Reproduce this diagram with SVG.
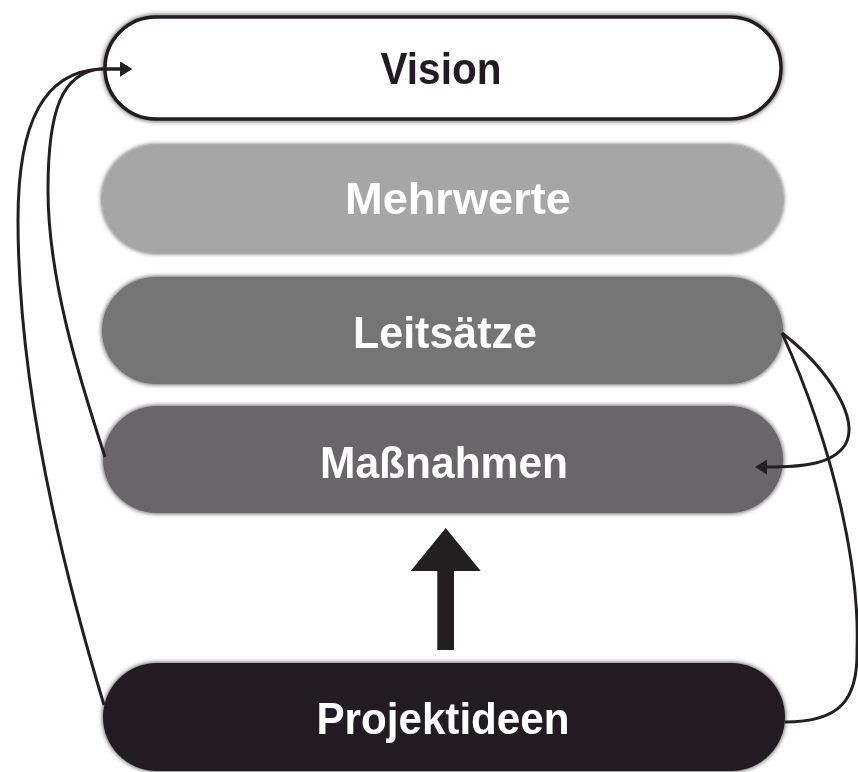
<svg xmlns="http://www.w3.org/2000/svg" width="858" height="772" viewBox="0 0 858 772">
<style>
.lbl{font-family:"Liberation Sans",Arial,Helvetica,sans-serif;font-weight:bold;font-size:45px;text-anchor:middle}
.w{fill:#ffffff}
.k{fill:#231f20}
.conn{fill:none;stroke:#231f20;stroke-width:3}
.box{filter:url(#glow)}
</style>
<defs>
<filter id="glow" x="-5%" y="-20%" width="110%" height="140%">
<feDropShadow dx="0" dy="0" stdDeviation="2.5" flood-color="#000000" flood-opacity="0.8"/>
</filter>
<marker id="ah" markerUnits="userSpaceOnUse" markerWidth="14" markerHeight="16" refX="0" refY="7.5" orient="auto">
<path d="M0,0 L12,7.5 L0,15 z" fill="#231f20"/>
</marker>
</defs>
<rect width="858" height="772" fill="#ffffff"/>
<g id="vision" class="box">
<rect x="105" y="17" width="676" height="102" rx="51" fill="#ffffff" stroke="#231f20" stroke-width="3.5"/>
<text class="lbl k" x="441" y="84" textLength="121" lengthAdjust="spacingAndGlyphs">Vision</text>
</g>
<g id="mehrwerte" class="box">
<rect x="102" y="145" width="681" height="108" rx="54" fill="#a6a6a6"/>
<text class="lbl w" x="458" y="214" textLength="226" lengthAdjust="spacingAndGlyphs">Mehrwerte</text>
</g>
<g id="leitsaetze" class="box">
<rect x="102" y="277" width="681" height="107" rx="53.5" fill="#767475"/>
<text class="lbl w" x="445" y="348" textLength="184" lengthAdjust="spacingAndGlyphs">Leitsätze</text>
</g>
<g id="massnahmen" class="box">
<rect x="103" y="406" width="680" height="107" rx="53.5" fill="#686667"/>
<text class="lbl w" x="444" y="478" textLength="248" lengthAdjust="spacingAndGlyphs">Maßnahmen</text>
</g>
<g id="projektideen" class="box">
<rect x="103" y="663" width="682" height="108" rx="54" fill="#231f20"/>
<text class="lbl w" x="443" y="734" textLength="253" lengthAdjust="spacingAndGlyphs">Projektideen</text>
</g>
<g id="connectors">
<polygon points="445.7,528 480.7,571 454,571 454,650 437.3,650 437.3,571 410.7,571" fill="#231f20"/>
<path class="conn" d="M104,705 C 60,560 18,380 18,220 C 18,120 45,72 100,69 L 120,69" marker-end="url(#ah)"/>
<path class="conn" d="M105,457 C 80,380 48,280 48,190 C 48,110 62,73 100,69 L 120,69" marker-end="url(#ah)"/>
<path class="conn" d="M782,333 C 830,370 860,420 845,445 C 832,465 800,467 767,467" marker-end="url(#ah)"/>
<path class="conn" d="M782,333 C 835,450 860,570 857,650 C 858,700 840,722 785,722"/>
</g>
</svg>
